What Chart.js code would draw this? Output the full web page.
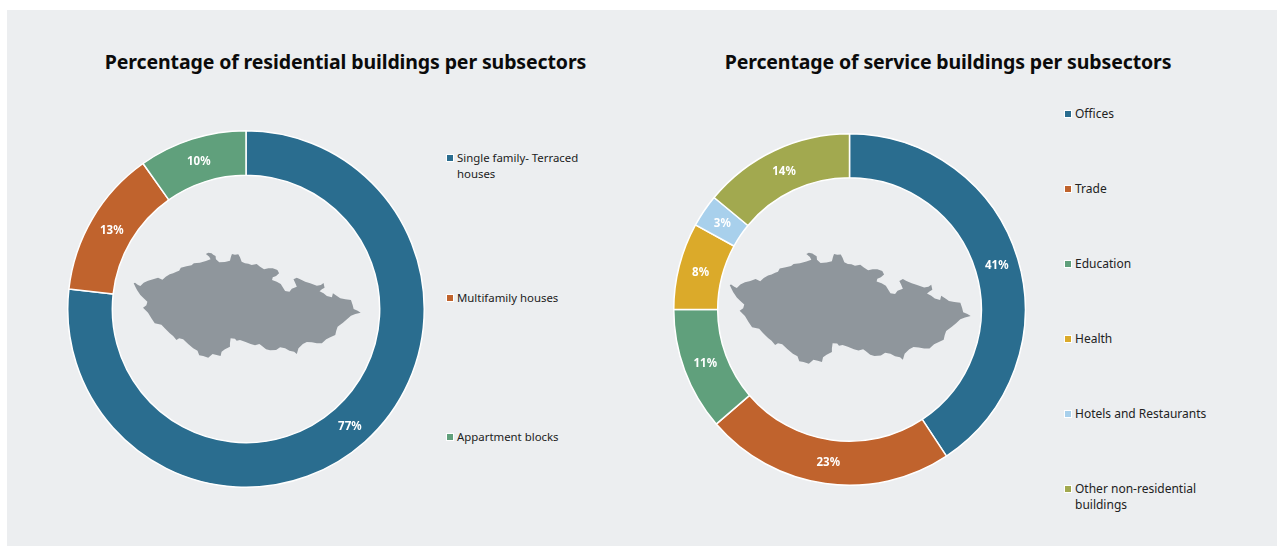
<!DOCTYPE html>
<html lang="en">
<head>
<meta charset="UTF-8">
<title>Residential and service buildings per subsectors</title>
<script src="https://cdn.jsdelivr.net/npm/chart.js"></script>
<style>
*{margin:0;padding:0;box-sizing:border-box;}
html,body{width:1282px;height:547px;background:#fff;overflow:hidden;font-family:'Noto Sans',sans-serif;}
#panel{position:absolute;left:7px;top:10px;width:1270px;height:536px;background:#eceef0;}
h2{position:absolute;top:48px;font-size:19.5px;letter-spacing:-.12px;line-height:28px;font-weight:700;color:#0b0b0b;white-space:nowrap;transform:translateX(-50%);}
canvas{position:absolute;}
#chartRes{left:67px;top:130px;}
#chartSrv{left:673px;top:133px;}
.map{position:absolute;}
.item{position:absolute;line-height:16px;color:#222;}
.item i{position:absolute;left:-10px;top:5px;width:6px;height:6px;box-shadow:0 0 0 1px #fff;}
</style>
</head>
<body>
<div id="panel"></div>
<h2 style="left:345.5px">Percentage of residential buildings per subsectors</h2>
<h2 style="left:948px">Percentage of service buildings per subsectors</h2>

<svg width="0" height="0" style="position:absolute">
  <symbol id="czech" viewBox="40 36 682 318" preserveAspectRatio="none">
    <path fill="#8f969c" d="M42 130L47 140 52 150 62 165 72 175 83 185 80 196 70 203 85 218 95 235 105 250 125 254 135 265 150 280 160 288 170 300 178 295 190 298 205 312 220 325 233 332 238 346 250 348 265 353 278 342 290 345 302 348 305 335 315 328 330 320 330 310 332 295 345 296 350 302 360 300 375 305 392 312 405 316 418 312 425 317 438 328 450 331 468 330 480 322 495 325 508 332 522 335 530 342 535 325 548 312 560 306 575 307 590 310 605 310 618 298 630 292 645 285 648 272 652 260 668 248 680 238 692 227 705 222 721 218 712 212 700 207 697 195 692 180 675 178 660 175 650 168 638 160 635 172 620 168 610 160 598 154 605 148 613 143 610 129 602 135 590 137 570 130 555 125 540 118 530 113 520 118 525 128 530 140 515 146 508 155 495 153 488 142 482 132 470 125 456 120 458 112 468 108 477 100 472 90 458 85 445 85 432 88 420 80 410 72 395 75 385 71 375 70 365 65 360 52 355 43 345 44 336 42 333 50 330 62 315 66 298 67 288 58 287 48 280 44 275 40 265 38 258 42 268 50 272 58 258 63 240 68 222 70 215 76 200 79 183 83 178 92 170 95 160 100 150 103 138 110 128 119 115 113 100 118 85 122 72 128 62 138 55 135 46 128Z"/>
  </symbol>
</svg>

<canvas id="chartRes" width="358" height="358"></canvas>
<canvas id="chartSrv" width="353" height="353"></canvas>
<svg class="map" style="left:133px;top:252px" width="228" height="106"><use href="#czech" width="228" height="106"/></svg>
<svg class="map" style="left:729px;top:252px" width="242" height="112"><use href="#czech" width="242" height="112"/></svg>
<div id="legends"></div>

<script>
const resLabels=['Single family- Terraced houses','Multifamily houses','Appartment blocks'];
const resValues=[76.8,13.4,9.8];
const resColors=['#2a6d8f','#c0632d','#60a07c'];

const srvLabels=['Offices','Trade','Education','Health','Hotels and Restaurants','Other non-residential buildings'];
const srvValues=[40.7,23,11.3,8,3,14];
const srvColors=['#2a6d8f','#c0632d','#60a07c','#dbaa2a','#a8d0ec','#a2a94f'];

const resLegendTops=[150,290,429];
const srvLegendTops=[106,181,256,331,406,481];

// percent labels in the middle of each ring slice
const sliceLabels={
    id:'sliceLabels',
    afterDatasetsDraw(chart){
        const ctx=chart.ctx;
        const values=chart.data.datasets[0].data;
        ctx.save();
        ctx.font="700 11.5px 'Noto Sans',sans-serif";
        ctx.fillStyle='#fff';
        ctx.textAlign='center';
        ctx.textBaseline='middle';
        chart.getDatasetMeta(0).data.forEach((arc,i)=>{
            const p=arc.tooltipPosition();
            ctx.fillText(Math.round(values[i])+'%',p.x,p.y+1);
        });
        ctx.restore();
    }
};

function ring(id,labels,values,colors,cutout){
    return new Chart(document.getElementById(id),{
        type:'doughnut',
        data:{labels:labels,datasets:[{data:values,backgroundColor:colors,borderColor:'#fff',borderWidth:1.5}]},
        options:{
            responsive:false,
            animation:false,
            cutout:cutout,
            plugins:{legend:{display:false},tooltip:{enabled:false}}
        },
        plugins:[sliceLabels]
    });
}

function legend(labels,colors,tops,left,width,size){
    const box=document.getElementById('legends');
    labels.forEach((t,i)=>{
        const d=document.createElement('div');
        d.className='item';
        d.style.left=left+'px';
        d.style.top=tops[i]+'px';
        d.style.width=width+'px';
        d.style.fontSize=size+'px';
        d.innerHTML='<i style="background:'+colors[i]+'"></i>'+t;
        box.appendChild(d);
    });
}

ring('chartRes',resLabels,resValues,resColors,'75%');
ring('chartSrv',srvLabels,srvValues,srvColors,'75%');
legend(resLabels,resColors,resLegendTops,457,130,11.4);
legend(srvLabels,srvColors,srvLegendTops,1075,135,12);
</script>
</body>
</html>
